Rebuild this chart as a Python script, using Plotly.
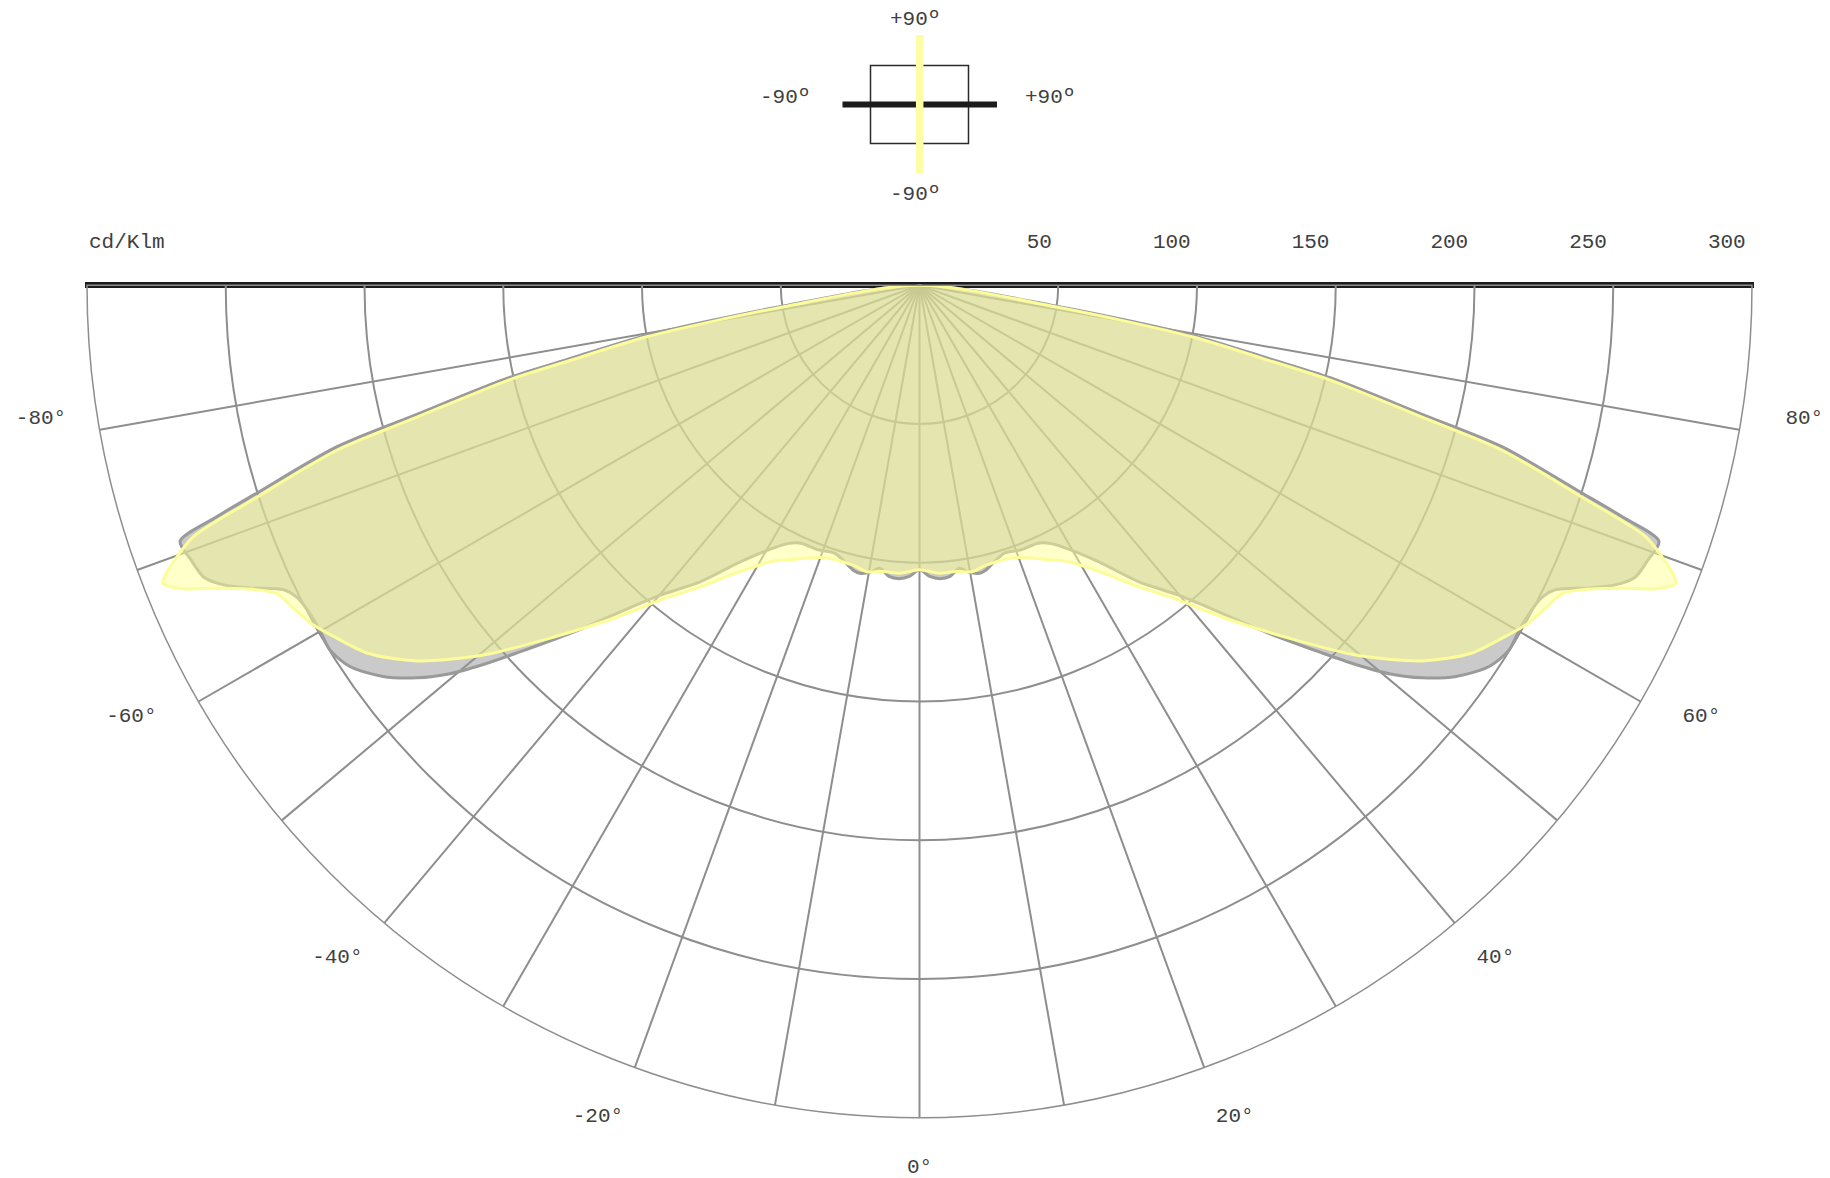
import plotly.graph_objects as go

# ---------------- data ----------------
GRAY_THETA = [-90, -81.3, -79.6, -78.1, -77.3, -75.6, -74.5, -72.6, -71.75, -70.9,
              -69.3, -67.8, -66.7, -65.7, -64.4, -63.4, -61.7, -60.1, -58.2, -56.2,
              -53.9, -52.0, -50.4, -49.0, -47.6, -45.0, -42.4, -40.0, -36.5, -33.0,
              -29.8, -27.0, -24.7, -21.0, -17.6, -14.4, -13.0, -11.7, -9.8, -8.0,
              -6.0, -4.0, -2.0, 0,
              2.0, 4.0, 6.0, 8.0, 9.8, 11.7, 13.0, 14.4, 17.6, 21.0,
              24.7, 27.0, 29.8, 33.0, 36.5, 40.0, 42.4, 45.0, 47.6, 49.0,
              50.4, 52.0, 53.9, 56.2, 58.2, 60.1, 61.7, 63.4, 64.4, 65.7,
              66.7, 67.8, 69.3, 70.9, 71.75, 72.6, 74.5, 75.6, 77.3, 78.1,
              79.6, 81.3, 90]
GRAY_R = [0, 50, 100, 130, 152, 187, 218, 250, 267, 282,
          280.5, 278.5, 273, 265, 254, 251, 249.5, 249.3, 249.8, 247,
          239.3, 229.8, 219.6, 208.3, 196.5, 177, 159, 146, 133, 119,
          110, 104.5, 102.3, 102.1, 101.3, 104.0, 105.5, 106, 105, 103,
          105.5, 106, 105, 102.5,
          105, 106, 105.5, 103, 105, 106, 105.5, 104.0, 101.3, 102.1,
          102.3, 104.5, 110, 119, 133, 146, 159, 177, 196.5, 208.3,
          219.6, 229.8, 239.3, 247, 249.8, 249.3, 249.5, 251, 254, 265,
          273, 278.5, 280.5, 282, 267, 250, 218, 187, 152, 130,
          100, 50, 0]

YEL_THETA = [-90, -81.0, -79.3, -77.8, -77.0, -75.3, -74.2, -72.3, -70.9, -69.9,
             -69.0, -68.5, -67.6, -66.7, -65.6, -64.4, -62.8, -61.0, -59.0, -56.3,
             -53.2, -49.7, -46.3, -42.4, -39.0, -35.9, -32.9, -27.9, -24.0, -20.1,
             -17.5, -13.3, -10.4, -7.2, -3.9, 0,
             3.9, 7.2, 10.4, 13.3, 17.5, 20.1, 24.0, 27.9, 32.9, 35.9,
             39.0, 42.4, 46.3, 49.7, 53.2, 56.3, 59.0, 61.0, 62.8, 64.4,
             65.6, 66.7, 67.6, 68.5, 69.0, 69.9, 70.9, 72.3, 74.2, 75.3,
             77.0, 77.8, 79.3, 81.0, 90]
YEL_R = [0, 50, 100, 130, 152, 187, 218, 250, 277, 285,
         291, 293, 287, 276, 265, 257, 254, 251, 246, 239,
         226, 206, 184, 162, 145, 134, 124, 112.5, 108, 104.5,
         103.5, 103.7, 105, 104, 104, 102.5,
         104, 104, 105, 103.7, 103.5, 104.5, 108, 112.5, 124, 134,
         145, 162, 184, 206, 226, 239, 246, 251, 254, 257,
         265, 276, 287, 293, 291, 285, 277, 250, 218, 187,
         152, 130, 100, 50, 0]

ANG_TICKS = [-80, -70, -60, -50, -40, -30, -20, -10, 0, 10, 20, 30, 40, 50, 60, 70, 80]
ANG_LABELS = ["-80°", "", "-60°", "", "-40°", "", "-20°", "", "0°", "",
              "20°", "", "40°", "", "60°", "", "80°"]
RAD_TICKS = [50, 100, 150, 200, 250, 300]
RAD_LABELS = ["50", "100", "150", "200", "250", "300"]
UNIT_LABEL = "cd/Klm"
KEY_LABELS = {"top": "+90º", "bottom": "-90º", "left": "-90º", "right": "+90º"}

# ---------------- styling ----------------
FONT = "Liberation Mono, DejaVu Sans Mono, monospace"
FS = 21
TXT = "#404040"
GRID = "#8e8e8e"
W, H = 1830, 1178
OFF = 8                      # default body margin of the html page
ML, MT = 87 - OFF, 285 - OFF
PW, PH = 1665, 833
MR = W - ML - PW
MB = H - MT - PH


def PX(x):                   # page pixel -> paper fraction
    return (x - OFF - ML) / PW


def PY(y):
    return (MT + PH - (y - OFF)) / PH


assert len(GRAY_THETA) == len(GRAY_R)
assert len(YEL_THETA) == len(YEL_R)

fig = go.Figure()
fig.add_trace(go.Scatterpolar(
    theta=GRAY_THETA, r=GRAY_R, mode="lines", fill="toself",
    fillcolor="rgba(150,150,150,0.5)",
    line=dict(color="#9a9a9a", width=3, shape="spline", smoothing=0.8),
    hoverinfo="skip", showlegend=False))
fig.add_trace(go.Scatterpolar(
    theta=YEL_THETA, r=YEL_R, mode="lines", fill="toself",
    fillcolor="rgba(255,255,150,0.5)",
    line=dict(color="#fcfc9a", width=3, shape="spline", smoothing=0.8),
    hoverinfo="skip", showlegend=False))

nb = "\u00a0"
rad_text = [t + nb * (len(t) + 1) for t in RAD_LABELS]
# angular axis range follows the sector: theta -90..90 -> 270..450
ang_vals = [v + 360 for v in ANG_TICKS]


def ang_label(v, t):
    if not t:
        return ""
    a = abs(v)
    if a >= 60 and v > 0:             # nudge right-side labels outward
        t = nb + t
    elif v == -60:
        t = t + nb
    if a >= 60:                       # lift the side labels a little
        t = t + "<br>" + nb + "<br>" + nb
    elif a >= 40:
        t = t + "<br>" + nb + "<br>" + nb
    return t


ang_text = [ang_label(v, t) for v, t in zip(ANG_TICKS, ANG_LABELS)]

fig.update_layout(
    width=W, height=H, autosize=False,
    margin=dict(l=ML, r=MR, t=MT, b=MB, pad=0),
    paper_bgcolor="white",
    font=dict(family=FONT, size=FS, color=TXT),
    showlegend=False,
    polar=dict(
        domain=dict(x=[0, 1], y=[0, 1]),
        sector=[180, 360],
        bgcolor="rgba(0,0,0,0)",
        angularaxis=dict(
            rotation=-90, direction="counterclockwise",
            tickmode="array", tickvals=ang_vals, ticktext=ang_text,
            showgrid=True, gridcolor=GRID, gridwidth=1.5,
            showline=True, linecolor=GRID, linewidth=1.5,
            ticks="outside", ticklen=29, tickcolor="rgba(0,0,0,0)",
            tickfont=dict(family=FONT, size=FS, color=TXT),
        ),
        radialaxis=dict(
            range=[0, 300], tickmode="array", tickvals=RAD_TICKS, ticktext=rad_text,
            angle=0, side="counterclockwise", tickangle=0,
            showline=False, showgrid=True, gridcolor=GRID, gridwidth=1.5,
            ticks="outside", ticklen=28, tickcolor="rgba(0,0,0,0)",
            tickfont=dict(family=FONT, size=FS, color=TXT),
        ),
    ),
)

shapes = [
    dict(type="line", xref="paper", yref="paper", x0=PX(85), x1=PX(1754), y0=PY(285), y1=PY(285),
         line=dict(color="#1c1c1c", width=6), layer="below"),
    dict(type="rect", xref="paper", yref="paper", x0=PX(870.5), x1=PX(968.5), y0=PY(65.5), y1=PY(143.5),
         line=dict(color="#2b2b2b", width=1.5), fillcolor="rgba(0,0,0,0)"),
    dict(type="line", xref="paper", yref="paper", x0=PX(842.5), x1=PX(997), y0=PY(104.5), y1=PY(104.5),
         line=dict(color="#1c1c1c", width=6)),
    dict(type="line", xref="paper", yref="paper", x0=PX(919.7), x1=PX(919.7), y0=PY(35), y1=PY(173),
         line=dict(color="#fdfda6", width=7.5)),
]


def label(text, x, y, anchor="center"):
    return dict(text=text, xref="paper", yref="paper", x=PX(x), y=PY(y), xanchor=anchor,
                yanchor="middle", showarrow=False, font=dict(family=FONT, size=FS, color=TXT))


annotations = [
    label(UNIT_LABEL, 87, 243, "left"),
    label(KEY_LABELS["top"], 915, 19),
    label(KEY_LABELS["bottom"], 915, 195),
    label(KEY_LABELS["left"], 785, 98),
    label(KEY_LABELS["right"], 1050, 98),
]

fig.update_layout(shapes=shapes, annotations=annotations)
fig.write_html("out.html")
